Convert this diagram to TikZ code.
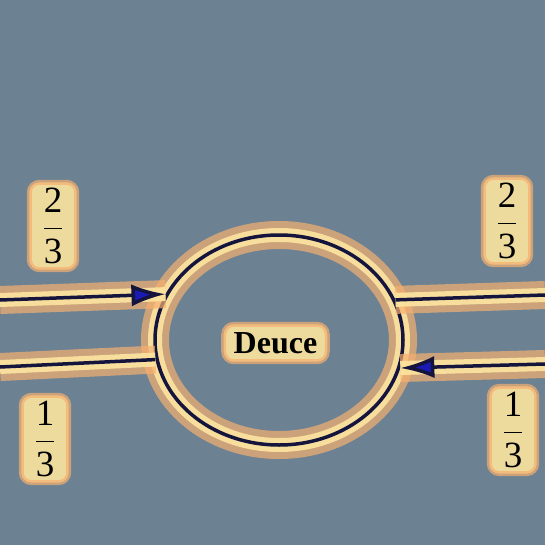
\documentclass[tikz,border=0pt]{standalone}
\usepackage{fontspec}
\setmainfont{Liberation Serif}
\usepackage{graphicx}
\usetikzlibrary{arrows.meta,shapes.geometric}
\definecolor{bg}{HTML}{6C8292}
\definecolor{navy}{HTML}{14143C}
\definecolor{tipblue}{HTML}{1A1AB4}
\definecolor{glowA}{HTML}{F6B070}
\definecolor{glowB}{HTML}{FCE5A0}
\newcommand\myfr[2]{\scalebox{3.7}{$\displaystyle\frac{\mbox{#1}}{\mbox{#2}}$}}
\tikzset{
  glow/.style={preaction={-,draw=glowA,draw opacity=.7,line width=28pt},
               preaction={-,draw=glowB,draw opacity=.9,line width=14pt}},
  conn/.style={glow,draw=navy,line width=3.5pt},
  arr/.style={-{Latex[length=34pt,width=22pt,fill=tipblue]}},
  fracnode/.style={inner xsep=10pt,inner ysep=6pt,fill=glowB,fill opacity=.9,text opacity=1,rounded corners=10pt,
    draw=glowA,draw opacity=.7,line width=5pt},
  deucebox/.style={inner xsep=10pt,inner ysep=8pt,fill=glowB,fill opacity=.9,text opacity=1,rounded corners=10pt,
    draw=glowA,draw opacity=.7,line width=5pt,
    font=\fontsize{32}{38}\selectfont\bfseries},
  ring/.style={ellipse,draw=navy,line width=3.5pt,minimum width=248pt,minimum height=210pt,inner sep=0pt,glow},
}
\begin{document}
\begin{tikzpicture}[x=1pt,y=-1pt]
\fill[bg] (0,0) rectangle (545,545);
\useasboundingbox (0,0) rectangle (545,545);

\node[ring] (deuce) at (279,340) {};
\node[deucebox] (deucetext) at (275.5,343) {Deuce};

\coordinate (inL) at (0,300);
\coordinate (outL) at (0,367);
\coordinate (outR) at (545,295);
\coordinate (inR) at (545,364);

\draw[conn,arr] (inL) -- (deuce.158);
\draw[conn] (deuce.189.3) -- (outL);
\draw[conn] (deuce.19.8) -- (outR);
\draw[conn,arr] (inR) -- (deuce.347.8);

\node[fracnode] (fa) at (53,226) {\myfr{2}{3}};
\node[fracnode] (fb) at (507,221) {\myfr{2}{3}};
\node[fracnode] (fc) at (45,439) {\myfr{1}{3}};
\node[fracnode] (fd) at (513,430) {\myfr{1}{3}};
\end{tikzpicture}
\end{document}
